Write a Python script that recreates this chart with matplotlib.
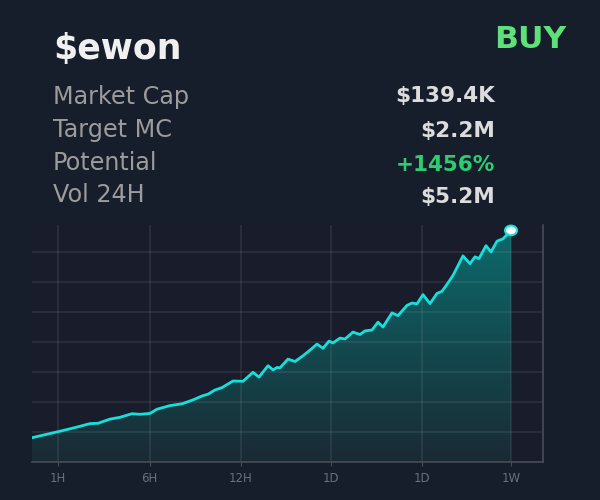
import numpy as np
import matplotlib.pyplot as plt
from matplotlib.colors import LinearSegmentedColormap
from matplotlib.patches import Ellipse

# values, one y unit = one grid step
line_x = [0, 26, 36, 48, 58, 66, 78, 88, 100, 108, 118, 125, 138, 150, 161, 170, 176, 183, 190, 201, 211, 221, 227,
          236, 241, 245, 248, 256, 263, 271, 278, 285, 291, 297, 301, 308, 313, 321, 328, 333, 340, 346, 351, 360,
          366, 375, 380, 385, 391, 398, 405, 410, 416, 421, 431, 438, 443, 447, 454, 459, 465, 471, 479]
line_y = [0.81, 1.01, 1.09, 1.19, 1.28, 1.29, 1.43, 1.49, 1.61, 1.59, 1.62, 1.76, 1.88, 1.94, 2.07, 2.20, 2.26, 2.40,
          2.48, 2.70, 2.69, 2.99, 2.83, 3.21, 3.07, 3.15, 3.14, 3.43, 3.35, 3.54, 3.73, 3.93, 3.79, 4.03, 3.97, 4.13,
          4.10, 4.33, 4.25, 4.37, 4.40, 4.66, 4.50, 4.97, 4.88, 5.22, 5.30, 5.27, 5.58, 5.28, 5.62, 5.69, 5.97, 6.22,
          6.87, 6.61, 6.84, 6.78, 7.21, 7.00, 7.36, 7.44, 7.72]
tick_pos = [26, 117.5, 208.5, 299, 390, 479]
tick_labels = ['1H', '6H', '12H', '1D', '1D', '1W']
stat_names = ['Market Cap', 'Target MC', 'Potential', 'Vol 24H']
stat_values = ['$139.4K', '$2.2M', '+1456%', '$5.2M']
stat_colors = ['#dcdcdc', '#dcdcdc', '#2ecc71', '#dcdcdc']

bg = '#161d2b'
x = np.array(line_x)
y = np.array(line_y)

fig = plt.figure(figsize=(6, 5), dpi=100, facecolor=bg)
ax = fig.add_axes([32 / 600, 1 - 462 / 500, 511 / 600, 237 / 500], facecolor='#191c2a')

# gradient fill, clipped under the line
grad = np.linspace(0, 1, 256).reshape(-1, 1)
cmap = LinearSegmentedColormap.from_list('fill', ['#1a2a34', '#0c6a6b'])
im = ax.imshow(grad, origin='lower', extent=[x[0], x[-1], 0, y[-1]], aspect='auto', cmap=cmap, zorder=1)
poly = ax.fill_between(x, y, 0, color='none')
im.set_clip_path(poly.get_paths()[0], ax.transData)
ax.set_xlim(0, 511)
ax.set_ylim(0, 7.9)

ax.set_xticks(tick_pos)
ax.set_xticklabels(tick_labels, color='#6b7078', fontsize=8.5)
ax.set_yticks(np.arange(1, 8))
ax.tick_params(axis='y', length=0, labelleft=False)
ax.tick_params(axis='x', length=3, color='#484d57', pad=4.5)
ax.grid(True, color='#a0a4aa', alpha=0.15, lw=1.2, zorder=2)
for side in ['top', 'left']:
    ax.spines[side].set_visible(False)
for side in ['right', 'bottom']:
    ax.spines[side].set_color('#484d57')
    ax.spines[side].set_linewidth(1.2)

ax.plot(x, y, color='#16e0dc', lw=2, zorder=3)
ax.add_patch(Ellipse((x[-1], y[-1]), 12, 0.32, fc='white', ec='#16e0dc', lw=1.5, zorder=4, clip_on=False))

fig.text(53 / 600, 1 - 59 / 500, '$ewon', color='#f0f0f0', fontsize=25, fontweight='bold', va='baseline')
fig.text(566 / 600, 1 - 48 / 500, 'BUY', color='#5fe07a', fontsize=22.6, fontweight='bold', va='baseline', ha='right')
name_base = [104, 136.5, 170, 201.5]
value_base = [101.5, 136.5, 171, 202.5]
for i in range(4):
    fig.text(53 / 600, 1 - name_base[i] / 500, stat_names[i], color='#9c9c9c', fontsize=17.2, va='baseline')
    fig.text(495 / 600, 1 - value_base[i] / 500, stat_values[i], color=stat_colors[i], fontsize=15.5, fontweight='bold', va='baseline', ha='right')

fig.savefig('out.png', dpi=100, facecolor=bg)
